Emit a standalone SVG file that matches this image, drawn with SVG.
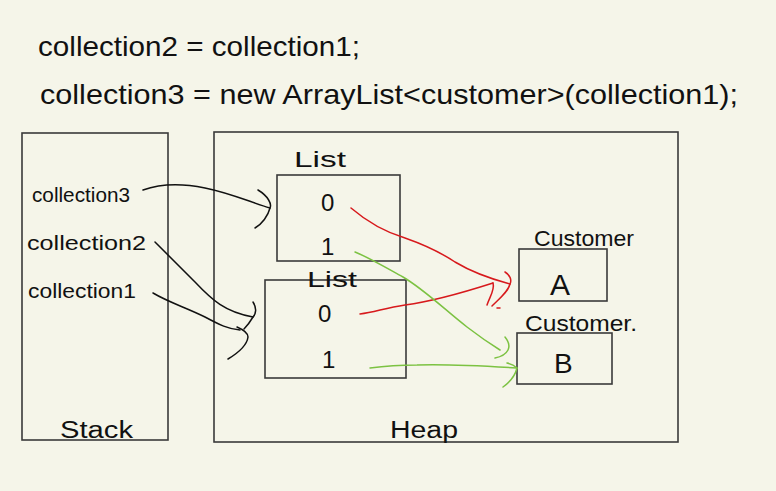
<svg xmlns="http://www.w3.org/2000/svg" width="776" height="491" viewBox="0 0 776 491">
<defs>
<style>
.bg{fill:#f5f5e9}
.box{fill:none;stroke:#3a3a3a;stroke-width:1.6}
.t{font-family:"Liberation Sans","DejaVu Sans",sans-serif;fill:#111;font-weight:normal}
.ink{fill:none;stroke:#111;stroke-width:1.5;stroke-linecap:round;stroke-linejoin:round}
.red{fill:none;stroke:#d7191c;stroke-width:1.5;stroke-linecap:round;stroke-linejoin:round}
.grn{fill:none;stroke:#7cc242;stroke-width:1.5;stroke-linecap:round;stroke-linejoin:round}
</style>
</defs>
<rect class="bg" x="0" y="0" width="776" height="491"/>
<g id="code">
<text class="t" x="38" y="56" font-size="28" textLength="322" lengthAdjust="spacingAndGlyphs">collection2 = collection1;</text>
<text class="t" x="40" y="104" font-size="28" textLength="698" lengthAdjust="spacingAndGlyphs">collection3 = new ArrayList&lt;customer&gt;(collection1);</text>
</g>
<g id="stack">
<rect class="box" x="22" y="133" width="146" height="307"/>
<text class="t" x="32" y="202" font-size="21" textLength="98" lengthAdjust="spacingAndGlyphs">collection3</text>
<text class="t" x="27" y="250" font-size="21" textLength="119" lengthAdjust="spacingAndGlyphs">collection2</text>
<text class="t" x="28" y="298" font-size="21" textLength="108" lengthAdjust="spacingAndGlyphs">collection1</text>
<text class="t" x="60" y="438" font-size="23" textLength="73" lengthAdjust="spacingAndGlyphs">Stack</text>
</g>
<g id="heap">
<rect class="box" x="214" y="132" width="464" height="310"/>
<text class="t" x="390" y="438" font-size="23" textLength="68" lengthAdjust="spacingAndGlyphs">Heap</text>
</g>
<g id="list1">
<rect class="box" x="277" y="175" width="123" height="86"/>
<text class="t" x="294" y="167" font-size="22" textLength="52" lengthAdjust="spacingAndGlyphs">List</text>
<text class="t" x="321" y="211" font-size="24">0</text>
<text class="t" x="321" y="255" font-size="24">1</text>
</g>
<g id="list2">
<rect class="box" x="265" y="280" width="141" height="98"/>
<text class="t" x="307" y="287" font-size="22" textLength="50" lengthAdjust="spacingAndGlyphs">List</text>
<text class="t" x="318" y="322" font-size="24">0</text>
<text class="t" x="322" y="368" font-size="24">1</text>
</g>
<g id="customerA">
<rect class="box" x="519" y="249" width="88" height="52"/>
<text class="t" x="534" y="246" font-size="22" textLength="100" lengthAdjust="spacingAndGlyphs">Customer</text>
<text class="t" x="550" y="295" font-size="30">A</text>
</g>
<g id="customerB">
<rect class="box" x="517" y="333" width="95" height="51"/>
<text class="t" x="525" y="331" font-size="22" textLength="112" lengthAdjust="spacingAndGlyphs">Customer.</text>
<text class="t" x="554" y="373" font-size="28">B</text>
</g>
<g id="connectors">
<path class="ink" d="M143,190 C160,184 180,183 205,188 C230,193 250,202 270,208"/>
<path class="ink" d="M258,190 C268,196 272,204 270,208 C268,216 262,224 255,228"/>
<path class="ink" d="M155,242 C165,252 175,262 195,282 C212,300 225,312 253,317"/>
<path class="ink" d="M253,302 C257,308 256,314 253,317 C250,322 247,326 244,329"/>
<path class="ink" d="M153,293 C170,303 185,307 205,317 C220,325 228,329 240,330"/>
<path class="ink" d="M237,327 C244,330 248,333 248,337 C247,345 238,353 228,359"/>
<path class="red" d="M351,208 C365,220 385,232 405,238 C425,245 440,252 455,262 C475,274 495,280 510,284"/>
<path class="red" d="M505,272 C510,275 512,280 510,284 C508,292 500,298 492,306"/>
<path class="red" d="M360,314 C375,312 385,308 405,305 C435,301 465,292 493,283"/>
<path class="red" d="M493,283 C495,290 490,296 487,305"/>
<path class="red" d="M497,308 L500,308"/>
<path class="grn" d="M355,252 C370,258 390,270 403,277 C425,290 445,310 467,327 C480,337 492,345 500,350"/>
<path class="grn" d="M505,337 C509,342 510,346 508,350 C506,354 500,357 495,358"/>
<path class="grn" d="M370,368 C385,366 400,365 417,365 C450,364 485,366 517,368"/>
<path class="grn" d="M507,363 C512,364 515,366 517,368 C515,376 510,382 503,387"/>
</g>
</svg>
